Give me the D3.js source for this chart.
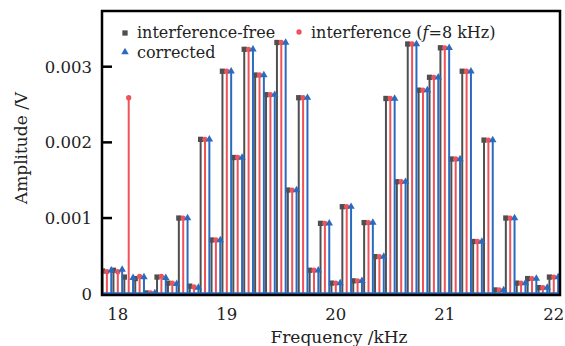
<!DOCTYPE html>
<html>
<head>
<meta charset="utf-8">
<script src="https://cdn.jsdelivr.net/npm/d3@7"></script>
<style>
  html, body { margin: 0; padding: 0; background: #fff; }
  svg { display: block; }
  text { font-family: "DejaVu Serif", "Liberation Serif", serif; fill: #222; }
</style>
</head>
<body>
<svg id="chart" width="565" height="346"></svg>
<script>
// Spectrum lines (kHz) and their amplitudes (V)
const frequencies = [17.9, 18.0, 18.1, 18.2, 18.3, 18.4, 18.5, 18.6, 18.7, 18.8, 18.9,
  19.0, 19.1, 19.2, 19.3, 19.4, 19.5, 19.6, 19.7, 19.8, 19.9,
  20.0, 20.1, 20.2, 20.3, 20.4, 20.5, 20.6, 20.7, 20.8, 20.9,
  21.0, 21.1, 21.2, 21.3, 21.4, 21.5, 21.6, 21.7, 21.8, 21.9, 22.0];

const interferenceFree = [0.00030, 0.00031, 0.00022, 0.00020, 0.00001, 0.00022, 0.00014, 0.00100, 0.00010, 0.00204, 0.00071,
  0.00294, 0.00180, 0.00323, 0.00289, 0.00263, 0.00332, 0.00137, 0.00259, 0.00031, 0.00093,
  0.00014, 0.00115, 0.00017, 0.00094, 0.00049, 0.00258, 0.00148, 0.00330, 0.00269, 0.00286,
  0.00325, 0.00178, 0.00294, 0.00069, 0.00203, 0.00005, 0.00100, 0.00014, 0.00020, 0.00008, 0.00022];

const withInterference = [0.00029, 0.00029, 0.00259, 0.00023, 0.00001, 0.00023, 0.00014, 0.00100, 0.00009, 0.00204, 0.00071,
  0.00294, 0.00180, 0.00323, 0.00289, 0.00263, 0.00332, 0.00137, 0.00259, 0.00031, 0.00093,
  0.00014, 0.00115, 0.00017, 0.00094, 0.00049, 0.00258, 0.00148, 0.00330, 0.00269, 0.00286,
  0.00325, 0.00178, 0.00294, 0.00069, 0.00203, 0.00005, 0.00100, 0.00014, 0.00020, 0.00008, 0.00022];

const corrected = [0.00031, 0.00032, 0.00021, 0.00022, 0.00001, 0.00021, 0.00013, 0.00100, 0.00008, 0.00204, 0.00071,
  0.00294, 0.00180, 0.00323, 0.00289, 0.00263, 0.00332, 0.00137, 0.00259, 0.00031, 0.00093,
  0.00014, 0.00115, 0.00017, 0.00094, 0.00049, 0.00258, 0.00148, 0.00330, 0.00269, 0.00286,
  0.00325, 0.00178, 0.00294, 0.00069, 0.00203, 0.00005, 0.00100, 0.00014, 0.00020, 0.00008, 0.00022];

const xTicks = [18, 19, 20, 21, 22];
const yTicks = [0, 0.001, 0.002, 0.003];
const yTickLabels = ["0", "0.001", "0.002", "0.003"];

const colors = { free: "#4f4f4f", interf: "#f0525a", corr: "#2a6bbf" };

const svg = d3.select("#chart");
const m = { left: 102, top: 11, right: 5, bottom: 51 };
const W = 565, H = 346;

const x = d3.scaleLinear().domain([17.855, 22.057]).range([m.left, W - m.right]);
const y = d3.scaleLinear().domain([-0.000017, 0.003736]).range([H - m.bottom, m.top]);

svg.append("clipPath").attr("id", "plotClip")
  .append("rect").attr("x", m.left).attr("y", m.top)
  .attr("width", W - m.right - m.left).attr("height", H - m.bottom - m.top);

const plot = svg.append("g").attr("clip-path", "url(#plotClip)");

const series = [
  { key: "free", values: interferenceFree, shift: -0.04, marker: d3.symbolSquare, size: 28 },
  { key: "interf", values: withInterference, shift: 0, marker: d3.symbolCircle, size: 22 },
  { key: "corr", values: corrected, shift: 0.04, marker: d3.symbolTriangle, size: 24 }
];

series.forEach(s => {
  const pts = frequencies.map((f, i) => ({ f: f + s.shift, v: s.values[i] }));
  const g = plot.append("g");
  g.selectAll("line.stem").data(pts).join("line")
    .attr("class", "stem")
    .attr("x1", d => x(d.f)).attr("x2", d => x(d.f))
    .attr("y1", y(0)).attr("y2", d => y(d.v))
    .attr("stroke", colors[s.key]).attr("stroke-width", 2);
  g.selectAll("path.mk").data(pts).join("path")
    .attr("class", "mk")
    .attr("d", d3.symbol().type(s.marker).size(s.size))
    .attr("transform", d => `translate(${x(d.f)},${y(d.v)})`)
    .attr("fill", colors[s.key]);
});

// baseline of the stem plot
plot.append("line")
  .attr("x1", m.left).attr("x2", W - m.right)
  .attr("y1", y(0)).attr("y2", y(0))
  .attr("stroke", colors.corr).attr("stroke-width", 3);

// frame
svg.append("rect")
  .attr("x", m.left).attr("y", m.top)
  .attr("width", W - m.right - m.left).attr("height", H - m.bottom - m.top)
  .attr("fill", "none").attr("stroke", "#000").attr("stroke-width", 2.5);

// y ticks (inward) and labels
const yAxis = svg.append("g");
yTicks.forEach((t, i) => {
  if (t !== 0) {
    yAxis.append("line")
      .attr("x1", m.left).attr("x2", m.left + 10)
      .attr("y1", y(t)).attr("y2", y(t))
      .attr("stroke", "#000").attr("stroke-width", 2.5);
  }
  yAxis.append("text")
    .attr("x", 92).attr("y", y(t))
    .attr("dy", "0.36em")
    .attr("text-anchor", "end")
    .attr("font-size", 16.5)
    .text(yTickLabels[i]);
});

// x tick labels
const xAxis = svg.append("g");
xTicks.forEach(t => {
  xAxis.append("text")
    .attr("x", x(t)).attr("y", 320)
    .attr("text-anchor", "middle")
    .attr("font-size", 16.5)
    .text(t);
});

// axis titles
svg.append("text")
  .attr("x", 339).attr("y", 343)
  .attr("text-anchor", "middle")
  .attr("font-size", 17)
  .text("Frequency /kHz");

svg.append("text")
  .attr("transform", "translate(27,148) rotate(-90)")
  .attr("text-anchor", "middle")
  .attr("font-size", 17)
  .text("Amplitude /V");

// legend
const legend = svg.append("g");
legend.append("path")
  .attr("d", d3.symbol().type(d3.symbolSquare).size(28)())
  .attr("transform", "translate(125,33)").attr("fill", colors.free);
legend.append("text").attr("x", 137).attr("y", 38).attr("font-size", 16)
  .text("interference-free");

legend.append("path")
  .attr("d", d3.symbol().type(d3.symbolCircle).size(22)())
  .attr("transform", "translate(299,32)").attr("fill", colors.interf);
const t2 = legend.append("text").attr("x", 311).attr("y", 38).attr("font-size", 16);
t2.append("tspan").text("interference (");
t2.append("tspan").attr("font-style", "italic").text("f");
t2.append("tspan").text("=8 kHz)");

legend.append("path")
  .attr("d", d3.symbol().type(d3.symbolTriangle).size(24)())
  .attr("transform", "translate(125,52)").attr("fill", colors.corr);
legend.append("text").attr("x", 137).attr("y", 58).attr("font-size", 16)
  .text("corrected");
</script>
</body>
</html>
